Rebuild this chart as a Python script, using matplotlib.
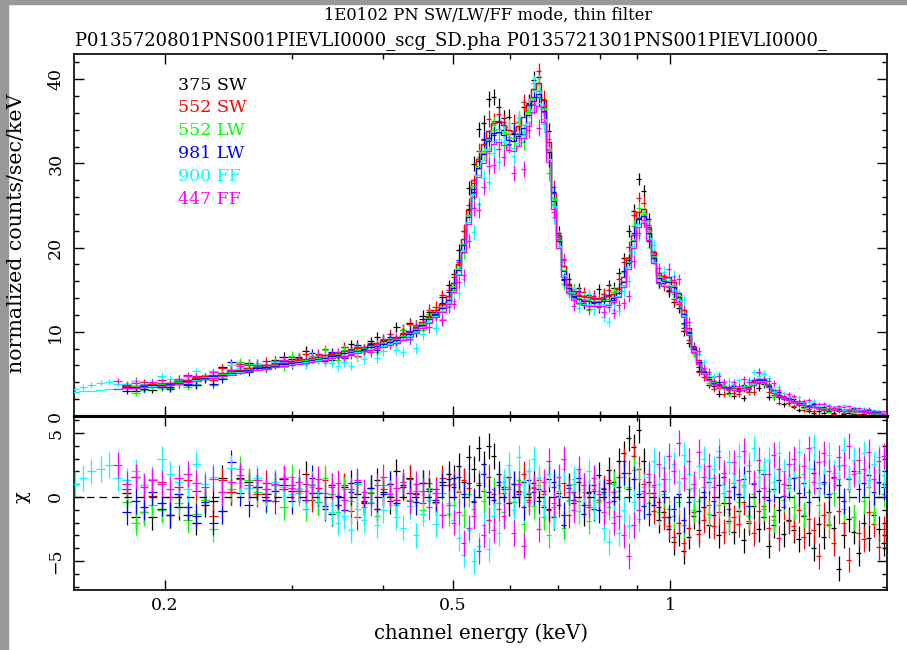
import numpy as np
import matplotlib
matplotlib.use("Agg")
import matplotlib.pyplot as plt
from matplotlib.patches import Rectangle
from matplotlib.ticker import FixedLocator, FixedFormatter, NullFormatter, MultipleLocator

# ---------------- data ----------------
energy_keV = [
    0.150, 0.154, 0.158, 0.163, 0.167, 0.172, 0.177, 0.182, 0.187, 0.192, 0.198, 0.203, 0.209,
    0.215, 0.221, 0.227, 0.233, 0.240, 0.247, 0.254, 0.261, 0.268, 0.276, 0.284, 0.292, 0.300,
    0.306, 0.313, 0.319, 0.326, 0.333, 0.340, 0.347, 0.354, 0.362, 0.369, 0.377, 0.385, 0.393,
    0.401, 0.410, 0.418, 0.427, 0.436, 0.445, 0.455, 0.464, 0.474, 0.484, 0.494,
    0.502, 0.510, 0.518, 0.527, 0.535, 0.544, 0.552, 0.561, 0.570, 0.579, 0.589, 0.598, 0.608,
    0.617, 0.627, 0.637, 0.648, 0.658, 0.669, 0.679, 0.690, 0.701, 0.713, 0.724, 0.736, 0.748,
    0.760, 0.772, 0.784, 0.797, 0.810, 0.823, 0.836, 0.849, 0.863, 0.877, 0.891, 0.905, 0.920,
    0.934, 0.949, 0.965, 0.980, 0.996,
    1.012, 1.028, 1.045, 1.062, 1.079, 1.096, 1.114, 1.132, 1.150, 1.168, 1.187, 1.206, 1.226,
    1.245, 1.265, 1.286, 1.306, 1.327, 1.349, 1.370, 1.392, 1.415, 1.437, 1.460, 1.484, 1.508,
    1.532, 1.556, 1.581, 1.607, 1.633, 1.659, 1.685, 1.712, 1.740, 1.768, 1.796, 1.825, 1.854,
    1.884, 1.914, 1.945, 1.976]

# model spectrum (normalized counts/sec/keV) for the 375 SW normalisation
model_counts = [
    3.05, 3.12, 3.2, 3.28, 3.36, 3.45, 3.53, 3.6, 3.68, 3.76, 3.85, 3.95, 4.1,
    4.3, 4.5, 4.7, 4.9, 5.1, 5.3, 5.5, 5.7, 5.85, 6.0, 6.2, 6.35, 6.5,
    6.65, 6.8, 6.9, 7.05, 7.2, 7.35, 7.5, 7.7, 7.9, 8.05, 8.25, 8.45, 8.65,
    8.85, 9.1, 9.35, 9.7, 10.1, 10.6, 11.2, 11.9, 12.6, 13.3, 14.3,
    15.8, 18.0, 21.0, 24.5, 28.0, 30.5, 32.3, 33.8, 34.8, 35.0, 34.6, 34.0, 33.9,
    34.5, 35.5, 37.0, 38.8, 39.6, 37.5, 32.5, 26.5, 21.5, 17.8, 15.7, 14.8, 14.4,
    14.2, 14.1, 14.0, 14.0, 14.1, 14.2, 14.5, 15.2, 16.5, 18.8, 21.5, 24.2, 24.6,
    22.5, 19.5, 17.0, 16.6, 16.5,
    15.9, 14.6, 12.6, 10.4, 8.2, 6.6, 5.4, 4.6, 4.1, 3.8, 3.6, 3.45, 3.35,
    3.3, 3.35, 3.6, 4.0, 4.4, 4.4, 3.7, 3.0, 2.55, 2.25, 2.0, 1.75, 1.5,
    1.35, 1.2, 1.1, 1.0, 0.92, 0.85, 0.8, 0.75, 0.7, 0.66, 0.62, 0.58, 0.52,
    0.46, 0.4, 0.33, 0.27]

# 1-sigma error of each bin (counts/sec/keV)
sigma_counts = [
    0.35, 0.35, 0.36, 0.36, 0.37, 0.37, 0.38, 0.38, 0.38, 0.39, 0.39, 0.4, 0.4,
    0.41, 0.42, 0.43, 0.44, 0.45, 0.46, 0.47, 0.48, 0.48, 0.49, 0.5, 0.5, 0.51,
    0.52, 0.52, 0.53, 0.53, 0.54, 0.54, 0.55, 0.55, 0.56, 0.57, 0.57, 0.58, 0.59,
    0.59, 0.6, 0.61, 0.62, 0.63, 0.64, 0.65, 0.66, 0.67, 0.68, 0.68,
    0.68, 0.72, 0.78, 0.84, 0.9, 0.93, 0.95, 0.96, 0.97, 0.97, 0.97, 0.96, 0.96,
    0.96, 0.97, 1.0, 1.02, 1.03, 1.0, 0.94, 0.86, 0.78, 0.7, 0.66, 0.64, 0.63,
    0.62, 0.62, 0.62, 0.62, 0.62, 0.62, 0.63, 0.64, 0.66, 0.7, 0.74, 0.76, 0.76,
    0.74, 0.7, 0.66, 0.66, 0.66,
    0.66, 0.63, 0.6, 0.55, 0.5, 0.46, 0.43, 0.41, 0.39, 0.38, 0.37, 0.36, 0.36,
    0.35, 0.36, 0.37, 0.39, 0.41, 0.41, 0.37, 0.34, 0.31, 0.29, 0.27, 0.25, 0.23,
    0.22, 0.21, 0.2, 0.19, 0.18, 0.17, 0.17, 0.16, 0.16, 0.15, 0.15, 0.14, 0.13,
    0.13, 0.12, 0.1, 0.09]

series_labels = ["375 SW", "552 SW", "552 LW", "981 LW", "900 FF", "447 FF"]
series_colors = ["#000000", "#ff0000", "#00ff00", "#0000ff", "#00ffff", "#ff00ff"]
series_norm = [1.0, 1.0, 0.975, 0.965, 0.94, 0.93]
series_first_bin = [6, 6, 6, 6, 0, 5]

chi_375sw = [
    0.3, -1.6, -1.2, -1.6, -0.9, -1.4, -0.8, -1.4, -2.0, -0.6, -0.3, 1.5, 0.4, 1.5, 1.2, 0.8, 0.2, 0.9, 1.4, 0.5,
    0.6, 1.8, 0.3, -0.4, -0.9, -1.3, -0.6, 0.8, 1.1, 0.2, -0.5, 0.7, 1.3, 0.4, -0.3, 2.0, 0.9, 1.5, 0.2, 1.1, 0.6, -0.4, 1.2, 1.8,
    1.5, 2.4, 1.2, 3.1, 2.2, 3.8, 2.6, 4.0, 3.2, 1.8,
    0.8, 1.6, -0.4, 0.5, 1.2, 0.2, 1.1, 0.6,
    -0.8, 1.4, -1.6, 0.3, -2.2, 0.9, -0.5, 1.2, -1.3, 0.4, -0.9, 1.7,
    0.6, 2.1, 1.2, 2.8,
    3.4, 4.6, 3.9, 5.2, 2.8,
    1.2, -0.6, -1.8, -1.2, -2.5,
    -3.5, -2.8, -4.2, -3.1, -1.5, -2.6,
    -0.8, -2.2, -1.4, -3.0, -0.5, -1.9, -2.7, -1.1, -3.4, -2.0, -0.7, -2.5, -1.6, -3.8, -2.2, -1.0, -2.9, -1.8,
    -2.6, -3.3, -1.5, -2.8, -4.0, -2.1, -3.1, -1.2, -2.4, -5.6, -3.0, -1.7, -2.7, -4.4, -2.0, -3.2, -1.4, -2.5, -3.6]

chi_552sw = [
    0.6, 1.6, 0.9, 0.1, 1.2, 0.0, 0.8, 1.3, 0.5, -0.2, -1.5, 1.3, 0.4, 1.4, 0.7, 0.2, 1.1, -0.3, 0.6, 0.9,
    0.5, 1.0, -0.2, 0.7, 1.3, 0.2, -0.6, 0.9, -1.1, -1.6, -0.4, 0.3, -0.9, 0.6, 1.0, -0.2, 0.8, 1.4, 0.3, -0.5, 1.1, 0.6, 1.5, 0.9,
    1.0, 0.4, 1.3, 0.7, -0.3, 1.1, 0.5, 1.6, 0.2, 0.9,
    0.3, -0.5, 1.0, 0.4, 1.8, -0.2, 0.7, 1.3,
    0.2, -1.0, 0.8, -0.6, 1.1, -1.4, 0.4, -0.3, 0.9, -0.8, 0.5, -0.2,
    0.7, 1.3, 0.4, 1.6,
    2.8, 1.9, 3.2, 2.2, 1.0,
    0.3, -1.1, -0.4, -1.6, -2.3,
    -3.1, -2.0, -3.6, -2.4, -1.2, -2.9,
    -1.8, -0.6, -2.3, -1.2, -2.7, -0.9, -1.6, -2.1, -0.4, -1.9, -2.8, -1.1, -0.7, -2.4, -1.5, -3.2, -0.8, -1.9,
    -2.3, -1.0, -3.1, -1.7, -2.6, -4.6, -1.4, -2.2, -3.6, -1.1, -2.0, -4.9, -1.6, -2.8, -3.3, -1.2, -2.1, -3.9, -2.5]

chi_552lw = [
    -0.4, -2.0, -1.2, -0.6, -1.0, -1.4, -0.5, -1.8, -1.3, -0.2, -2.5, -1.1, 0.6, 2.2, 1.3, 0.4, -0.3, 0.9, -0.8, 1.6,
    0.3, -0.9, 0.8, -0.4, 1.5, 0.2, -1.2, 0.6, -0.3, 1.0, -0.8, 0.4, -1.5, 0.9, 0.1, -0.6, 1.2, -0.2, 0.5, -1.0, 0.7, -0.5, 0.3, -1.3,
    -0.6, 0.5, -1.4, 0.2, -0.9, 1.1, -0.3, -1.8, 0.6, -0.5,
    -1.2, 0.8, -0.4, 1.3, -2.1, 0.3, -0.7, 0.9,
    -1.6, -3.0, -0.8, 0.5, -2.4, -0.2, 1.0, -1.1, 0.4, -1.9, 0.6, -0.4,
    0.2, -0.8, 1.0, 0.5,
    1.6, 0.8, 2.1, 1.4, 0.3,
    -0.5, 0.8, -1.2, 0.2, -0.9,
    -1.5, -0.4, -2.2, 0.6, -1.0, -0.3,
    0.8, -1.3, 1.5, -0.6, 0.3, -2.0, 1.1, -0.4, 0.9, -1.5, 0.2, 2.1, -0.9, 0.5, -1.8, 1.3, -0.2, 0.7,
    -0.8, 1.6, -1.4, 0.4, 2.2, -0.6, 1.0, -2.1, 0.3, 1.4, -0.9, 0.6, -1.6, 1.9, -0.3, 0.8, -1.2, 1.1, 0.2]

chi_981lw = [
    -1.2, -0.3, -0.8, 0.4, -0.5, -1.4, 0.2, -0.8, -1.5, -0.4, -2.0, -1.1, 2.7, 0.3, -0.6, 0.8, -0.2, 0.5, 0.9, -0.3,
    0.6, -0.2, 1.5, 0.3, -0.7, 0.9, 0.1, -1.0, 0.4, 1.2, -0.3, 0.7, -0.9, 0.2, 1.0, -0.5, 0.8, 0.3, -0.4, 1.1, 0.5, -0.2, 0.9, 1.4,
    0.8, 1.6, 0.2, 1.1, -0.4, 0.9, 1.8, 0.4, -0.2, 1.2,
    0.6, -0.5, 1.0, 0.2, -0.8, 1.3, 0.4, -0.3,
    0.5, -0.9, 1.2, 0.1, -1.4, 0.7, -0.2, 1.5, -0.6, 0.3, 0.9, -1.0,
    0.4, 1.1, -0.3, 0.8,
    1.9, 0.6, 1.4, 0.2, -0.7,
    -1.3, 0.3, -0.8, 0.5, -1.6,
    -0.9, 0.2, -1.8, -0.4, 0.7, -1.1,
    0.4, 1.2, -0.3, 0.9, 1.6, -0.5, 0.8, 0.2, 1.4, -0.7, 1.0, 0.5, 1.8, -0.2, 0.6, 1.3, 0.1, 0.9,
    1.5, 0.3, 1.1, -0.4, 1.9, 0.7, 1.2, 0.2, 1.6, 0.9, -0.3, 1.4, 2.0, 0.6, 1.1, 1.7, 0.4, 1.2, 0.8]

chi_900ff = [
    1.0, 1.5, 2.0, 2.2, 2.5, 1.5, 1.3, 2.0, 0.9, 1.4, 3.0, 1.8, 1.2, 0.6, 2.6, 1.0, 1.6, 0.4, 2.3, 1.1, 0.7, 1.5, 0.3, 1.2, 0.8, 0.2,
    0.6, -0.3, 1.0, 0.4, -0.8, -1.2, -2.0, -1.5, -2.6, -0.9, -1.8, -0.4, -2.2, -1.0, 0.3, -1.6, -2.4, -0.7, -3.0, -1.3, -0.2, -2.1, -1.4, -0.5,
    -1.8, -3.2, -4.5, -2.6, -5.0, -3.8, -2.2, -4.1, -1.5, -2.8,
    1.2, 2.5, -1.0, 3.1, 0.4, 2.0, 3.0, 1.5,
    -0.6, 1.8, -1.5, 0.9, 2.2, -0.3, 1.4, -1.1, 0.6, 2.0, -0.8, 0.5,
    -2.4, -3.5, -1.6, -2.8,
    -1.0, -2.3, -0.4, -1.7, 0.8,
    1.6, 2.8, 1.0, 2.3, 1.4,
    2.6, 1.2, 3.3, 1.8, 0.7, 2.4,
    3.0, 1.5, 2.2, 3.6, 1.0, 2.7, 1.9, 3.2, 0.8, 2.5, 3.8, 1.6, 2.1, 2.9, 1.2, 3.4, 2.0, 1.4,
    2.6, 3.5, 1.8, 2.3, 3.9, 1.1, 2.8, 3.3, 1.9, 2.4, 3.7, 1.5, 2.9, 2.0, 3.4, 1.3, 2.6, 3.1, 1.7]

chi_447ff = [
    2.5, 1.0, 1.6, 0.8, 1.3, 1.0, 0.6, 1.5, 1.8, 1.1, 0.8, 1.4, 0.4, 1.2, 1.7, 0.9, 1.3, 0.6, 1.0, 1.5, 0.7,
    1.2, 0.5, 0.9, 1.4, 0.3, 0.8, 1.1, -0.2, 0.6, 1.3, 0.4, -0.5, 0.9, 1.6, 0.2, 0.7, 1.2, -0.3, 1.0, 0.5, -0.8, 0.3, -1.4, -0.6,
    -2.0, -1.2, -3.6, -2.4, -1.5, -4.2, -3.0, -1.8, -2.6, -0.9,
    -1.5, 0.6, -2.8, 1.0, -3.8, -0.4, 0.8, -2.5,
    1.2, 2.8, -0.5, 1.6, 3.0, 0.4, -1.0, 2.2, 0.9, -0.6, 1.5, 0.2,
    -1.2, -0.4, -2.0, -1.5,
    -3.0, -4.6, -2.2, -1.0, 0.5,
    1.8, 0.9, 2.6, 1.4, 3.2,
    2.0, 4.2, 1.5, 2.8, 1.0, 3.5,
    1.6, 2.4, 0.8, 3.1, 1.9, 0.5, 2.7, 1.3, 3.6, 2.0, 1.1, 2.9, 0.7, 1.8, 3.3, 2.2, 1.0, 2.6,
    3.0, 1.6, 2.4, 3.8, 1.2, 2.7, 3.4, 2.0, 1.5, 3.1, 2.5, 4.0, 1.8, 2.9, 2.2, 3.5, 1.4, 2.8, 3.2]

series_chi = [chi_375sw, chi_552sw, chi_552lw, chi_981lw, chi_900ff, chi_447ff]

title_line1 = "1E0102 PN SW/LW/FF mode, thin filter"
title_line2 = "P0135720801PNS001PIEVLI0000_scg_SD.pha P0135721301PNS001PIEVLI0000_"

# ---------------- figure ----------------
W, H = 907, 650
plt.rcParams["font.family"] = ["DejaVu Serif"]
plt.rcParams["axes.unicode_minus"] = True
FS = 12.5

fig = plt.figure(figsize=(W / 100, H / 100), dpi=100)
fig.patch.set_facecolor("white")
fig.patches.append(Rectangle((0, 0), 8 / W, 1, transform=fig.transFigure, color="#999999", zorder=0))
fig.patches.append(Rectangle((0, 1 - 4 / H), 1, 4 / H, transform=fig.transFigure, color="#999999", zorder=0))

L, R = 74 / W, 887 / W
y_top, y_mid, y_bot = 1 - 54 / H, 1 - 416 / H, 1 - 590 / H
ax1 = fig.add_axes([L, y_mid, R - L, y_top - y_mid])
ax2 = fig.add_axes([L, y_bot, R - L, y_mid - y_bot], sharex=ax1)

E = np.array(energy_keV)
logE = np.log10(E)
mids = 0.5 * (logE[:-1] + logE[1:])
edges = np.concatenate([[2 * logE[0] - mids[0]], mids, [2 * logE[-1] - mids[-1]]])
edges = 10 ** edges
model = np.array(model_counts)
sig = np.array(sigma_counts)

for lab, col, nrm, i0, chi in zip(series_labels, series_colors, series_norm,
                                  series_first_bin, series_chi):
    chi = np.array(chi)
    n = len(chi)
    sl = slice(i0, i0 + n)
    e = E[sl]
    lo = e - edges[i0:i0 + n]
    hi = edges[i0 + 1:i0 + n + 1] - e
    m = model[sl] * nrm
    s = sig[sl]
    data = m + chi * s
    ax1.errorbar(e, data, xerr=[lo, hi], yerr=s, fmt="none", ecolor=col,
                 elinewidth=0.9, capsize=0, zorder=3)
    ax1.stairs(m, edges[i0:i0 + n + 1], color=col, lw=0.9, baseline=None, zorder=4)
    ax2.errorbar(e, chi, xerr=[lo, hi], yerr=np.ones(n), fmt="none", ecolor=col,
                 elinewidth=0.9, capsize=0, zorder=3)

ax2.axhline(0, color="black", ls=(0, (6, 4)), lw=0.9, zorder=5)

ax1.set_xscale("log")
ax1.set_xlim(0.1496, 1.997)
ax1.set_ylim(0, 43)
ax2.set_ylim(-7.27, 6.33)

major_x = [0.2, 0.5, 1.0]
minor_x = [0.3, 0.4, 0.6, 0.7, 0.8, 0.9]
for ax in (ax1, ax2):
    ax.xaxis.set_major_locator(FixedLocator(major_x))
    ax.xaxis.set_minor_locator(FixedLocator(minor_x))
    ax.xaxis.set_minor_formatter(NullFormatter())
    ax.tick_params(which="major", direction="in", length=7, width=1.0,
                   top=True, bottom=True, left=True, right=True, labelsize=FS)
    ax.tick_params(which="minor", direction="in", length=3.5, width=1.0,
                   top=True, bottom=True, left=True, right=True)
    for sp in ax.spines.values():
        sp.set_linewidth(1.2)
ax1.spines["bottom"].set_linewidth(2.2)
ax2.spines["top"].set_linewidth(2.2)

ax1.tick_params(axis="x", labelbottom=False)
ax2.xaxis.set_major_formatter(FixedFormatter(["0.2", "0.5", "1"]))
ax2.tick_params(axis="x", pad=5)

ax1.yaxis.set_major_locator(MultipleLocator(10))
ax1.yaxis.set_minor_locator(MultipleLocator(2))
ax2.yaxis.set_major_locator(MultipleLocator(5))
ax2.yaxis.set_minor_locator(MultipleLocator(1))
for ax in (ax1, ax2):
    ax.tick_params(axis="y", pad=7)
    for t in ax.get_yticklabels():
        t.set_rotation(90)
        t.set_va("center")

fig.text(488 / W, 1 - 15 / H, title_line1, ha="center", va="center", fontsize=11.8)
fig.text(75 / W, 1 - 41 / H, title_line2, ha="left", va="center", fontsize=13.0)
fig.text(17 / W, 1 - 233 / H, "normalized counts/sec/keV", rotation=90,
         ha="center", va="center", fontsize=14.8)
fig.text(22 / W, 1 - 497 / H, "χ", rotation=90, ha="center", va="center", fontsize=14)
fig.text(481 / W, 1 - 633 / H, "channel energy (keV)", ha="center", va="center", fontsize=14.2)

for k, (lab, col) in enumerate(zip(series_labels, series_colors)):
    fig.text(178 / W, 1 - (85 + 22.8 * k) / H, lab, color=col, ha="left",
             va="center", fontsize=FS)

fig.savefig("out.png", dpi=100)
